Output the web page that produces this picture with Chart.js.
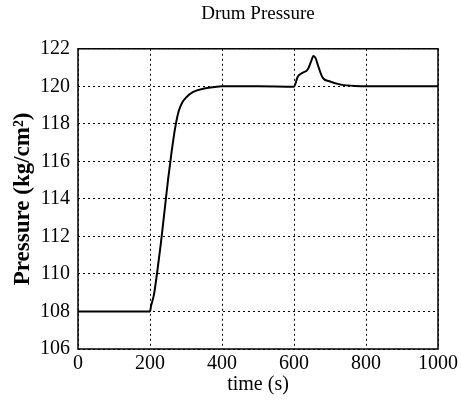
<!DOCTYPE html>
<html>
<head>
<meta charset="utf-8">
<script src="https://cdn.jsdelivr.net/npm/chart.js@4"></script>
<style>
  html, body { margin: 0; padding: 0; background: #fff; }
  #wrap { width: 461px; height: 412px; }
</style>
</head>
<body>
<div id="wrap"><canvas id="drumChart" width="461" height="412"></canvas></div>
<script>
// Время, с
const times = [0, 200, 203, 211, 220, 230, 240, 250, 260, 270, 280, 290, 300, 320, 350, 380, 400, 500, 600,
  605, 610, 624, 638, 647, 654, 660, 666, 680, 698, 730, 770, 850, 1000];
// Давление в барабане, кг/см²
const pressures = [108, 108, 108.3, 108.9, 110.1, 111.6, 113.3, 115, 116.5, 117.8, 118.7, 119.15, 119.4, 119.7, 119.88, 119.97, 120, 120, 119.98,
  120.2, 120.5, 120.72, 120.9, 121.3, 121.62, 121.5, 121.15, 120.45, 120.27, 120.09, 120.02, 120, 120];

const xTicks = [0, 200, 400, 600, 800, 1000];
const yTicks = [106, 108, 110, 112, 114, 116, 118, 120, 122];

const serif = "'Liberation Serif', 'DejaVu Serif', serif";

// Рамка вокруг области графика
const frame = {
  id: 'frame',
  afterDraw(chart) {
    const { ctx, chartArea: a } = chart;
    ctx.save();
    ctx.strokeStyle = '#000';
    ctx.lineWidth = 1.5;
    ctx.strokeRect(a.left, a.top, a.right - a.left, a.bottom - a.top);
    ctx.restore();
  }
};

const points = times.map((t, i) => ({ x: t, y: pressures[i] }));

const gridStyle = {
  color: '#000',
  lineWidth: 1,
  drawTicks: false
};

new Chart(document.getElementById('drumChart').getContext('2d'), {
  type: 'line',
  data: {
    datasets: [{
      data: points,
      borderColor: '#000',
      borderWidth: 2,
      pointRadius: 0,
      cubicInterpolationMode: 'monotone',
      fill: false
    }]
  },
  options: {
    responsive: false,
    animation: false,
    layout: { padding: { left: 0, right: 23, top: 0, bottom: 0 } },
    plugins: {
      legend: { display: false },
      tooltip: { enabled: false },
      title: {
        display: true,
        text: 'Drum Pressure',
        color: '#000',
        fullSize: false,
        font: { family: serif, size: 19, weight: 'normal' },
        padding: { top: 3, bottom: 23 }
      }
    },
    scales: {
      x: {
        type: 'linear',
        min: 0,
        max: 1000,
        afterBuildTicks: s => { s.ticks = xTicks.map(v => ({ value: v })); },
        ticks: { color: '#000', font: { family: serif, size: 20 }, padding: 3, maxRotation: 0,
          callback: v => String(v) },
        grid: gridStyle,
        border: { dash: [2, 3], display: false },
        title: {
          display: true,
          text: 'time (s)',
          color: '#000',
          font: { family: serif, size: 20 },
          padding: { top: 0, bottom: 15 }
        },
        afterFit: s => { s.height = 63; }
      },
      y: {
        min: 106,
        max: 122,
        afterBuildTicks: s => { s.ticks = yTicks.map(v => ({ value: v })); },
        ticks: { color: '#000', font: { family: serif, size: 20 }, padding: 8,
          callback: v => String(v) },
        grid: gridStyle,
        border: { dash: [2, 3], display: false },
        title: {
          display: true,
          text: 'Pressure (kg/cm²)',
          color: '#000',
          font: { family: serif, size: 23, weight: 'bold' },
          padding: { top: 9, bottom: 0 }
        },
        afterFit: s => { s.width = 78; }
      }
    }
  },
  plugins: [frame]
});
</script>
</body>
</html>
